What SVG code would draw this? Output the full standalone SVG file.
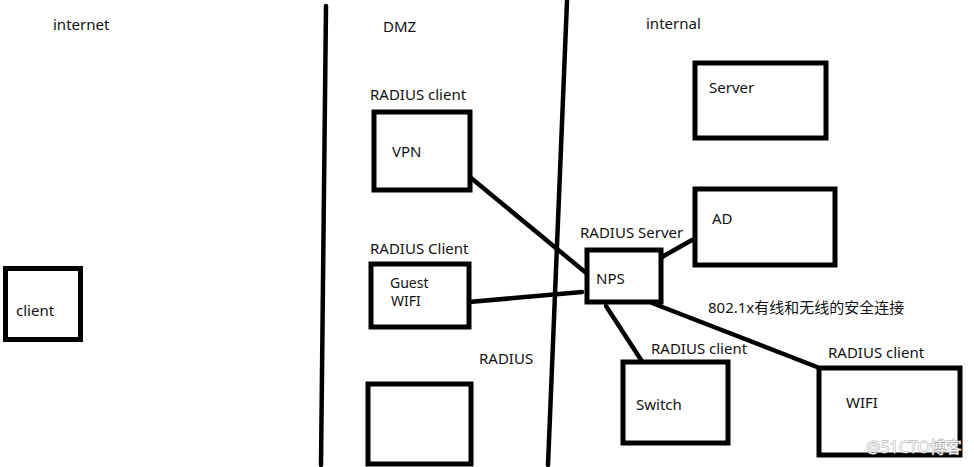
<svg xmlns="http://www.w3.org/2000/svg" width="974" height="467" viewBox="0 0 974 467">
<style>
.box{fill:#fff;stroke:#000;stroke-width:5}
.ln{stroke:#000;stroke-width:4.5;stroke-linecap:round;fill:none}
.zone{stroke:#000;stroke-width:4.5;stroke-linecap:round;fill:none}
text{font-family:"Noto Sans","Noto Sans CJK SC",sans-serif;font-size:15px;fill:#111}
.sm{font-size:14px}
.wm{font-size:16px;fill:#f6f6f6;stroke:#9a9a9a;stroke-width:0.8;paint-order:stroke}
</style>
<rect width="974" height="467" fill="#fff"/>
<g id="zones">
<path class="zone" d="M326 6 L321 465"/>
<path class="zone" d="M567 1 L548 465"/>
<text x="53" y="30">internet</text>
<text x="383" y="32">DMZ</text>
<text x="646" y="29">internal</text>
</g>
<g id="connectors">
<path class="ln" d="M465 173 L585 272"/>
<path class="ln" d="M469 302 L582 292"/>
<path class="ln" d="M662 257 L692 240"/>
<path class="ln" d="M606 306 L645 366"/>
<path class="ln" d="M652 303 L817 367"/>
</g>
<g id="client">
<rect class="box" x="5.5" y="268.5" width="75" height="71"/>
<text x="16" y="316">client</text>
</g>
<g id="vpn">
<text x="370" y="100">RADIUS client</text>
<rect class="box" x="374" y="112" width="96" height="78"/>
<text x="392" y="157">VPN</text>
</g>
<g id="guestwifi">
<text x="370" y="254">RADIUS Client</text>
<rect class="box" x="371" y="264" width="98" height="63"/>
<text class="sm" x="390" y="288">Guest</text>
<text class="sm" x="391" y="306">WIFI</text>
</g>
<g id="radius">
<text x="479" y="364">RADIUS</text>
<rect class="box" x="368" y="384" width="103" height="80"/>
</g>
<g id="nps">
<text x="580" y="238">RADIUS Server</text>
<rect class="box" x="587" y="250" width="74" height="52"/>
<text x="596" y="284">NPS</text>
</g>
<g id="server">
<rect class="box" x="695" y="63" width="131" height="75"/>
<text x="709" y="93">Server</text>
</g>
<g id="ad">
<rect class="box" x="695" y="189" width="140" height="76"/>
<text x="712" y="224">AD</text>
</g>
<g id="note">
<text x="708" y="313">802.1x有线和无线的安全连接</text>
</g>
<g id="switch">
<text x="651" y="354">RADIUS client</text>
<rect class="box" x="623" y="362" width="105" height="81"/>
<text x="636" y="410">Switch</text>
</g>
<g id="wifi">
<text x="828" y="358">RADIUS client</text>
<rect class="box" x="819" y="368" width="141" height="87"/>
<text x="846" y="408">WIFI</text>
</g>
<text class="wm" x="866" y="453">@51CTO博客</text>
</svg>
